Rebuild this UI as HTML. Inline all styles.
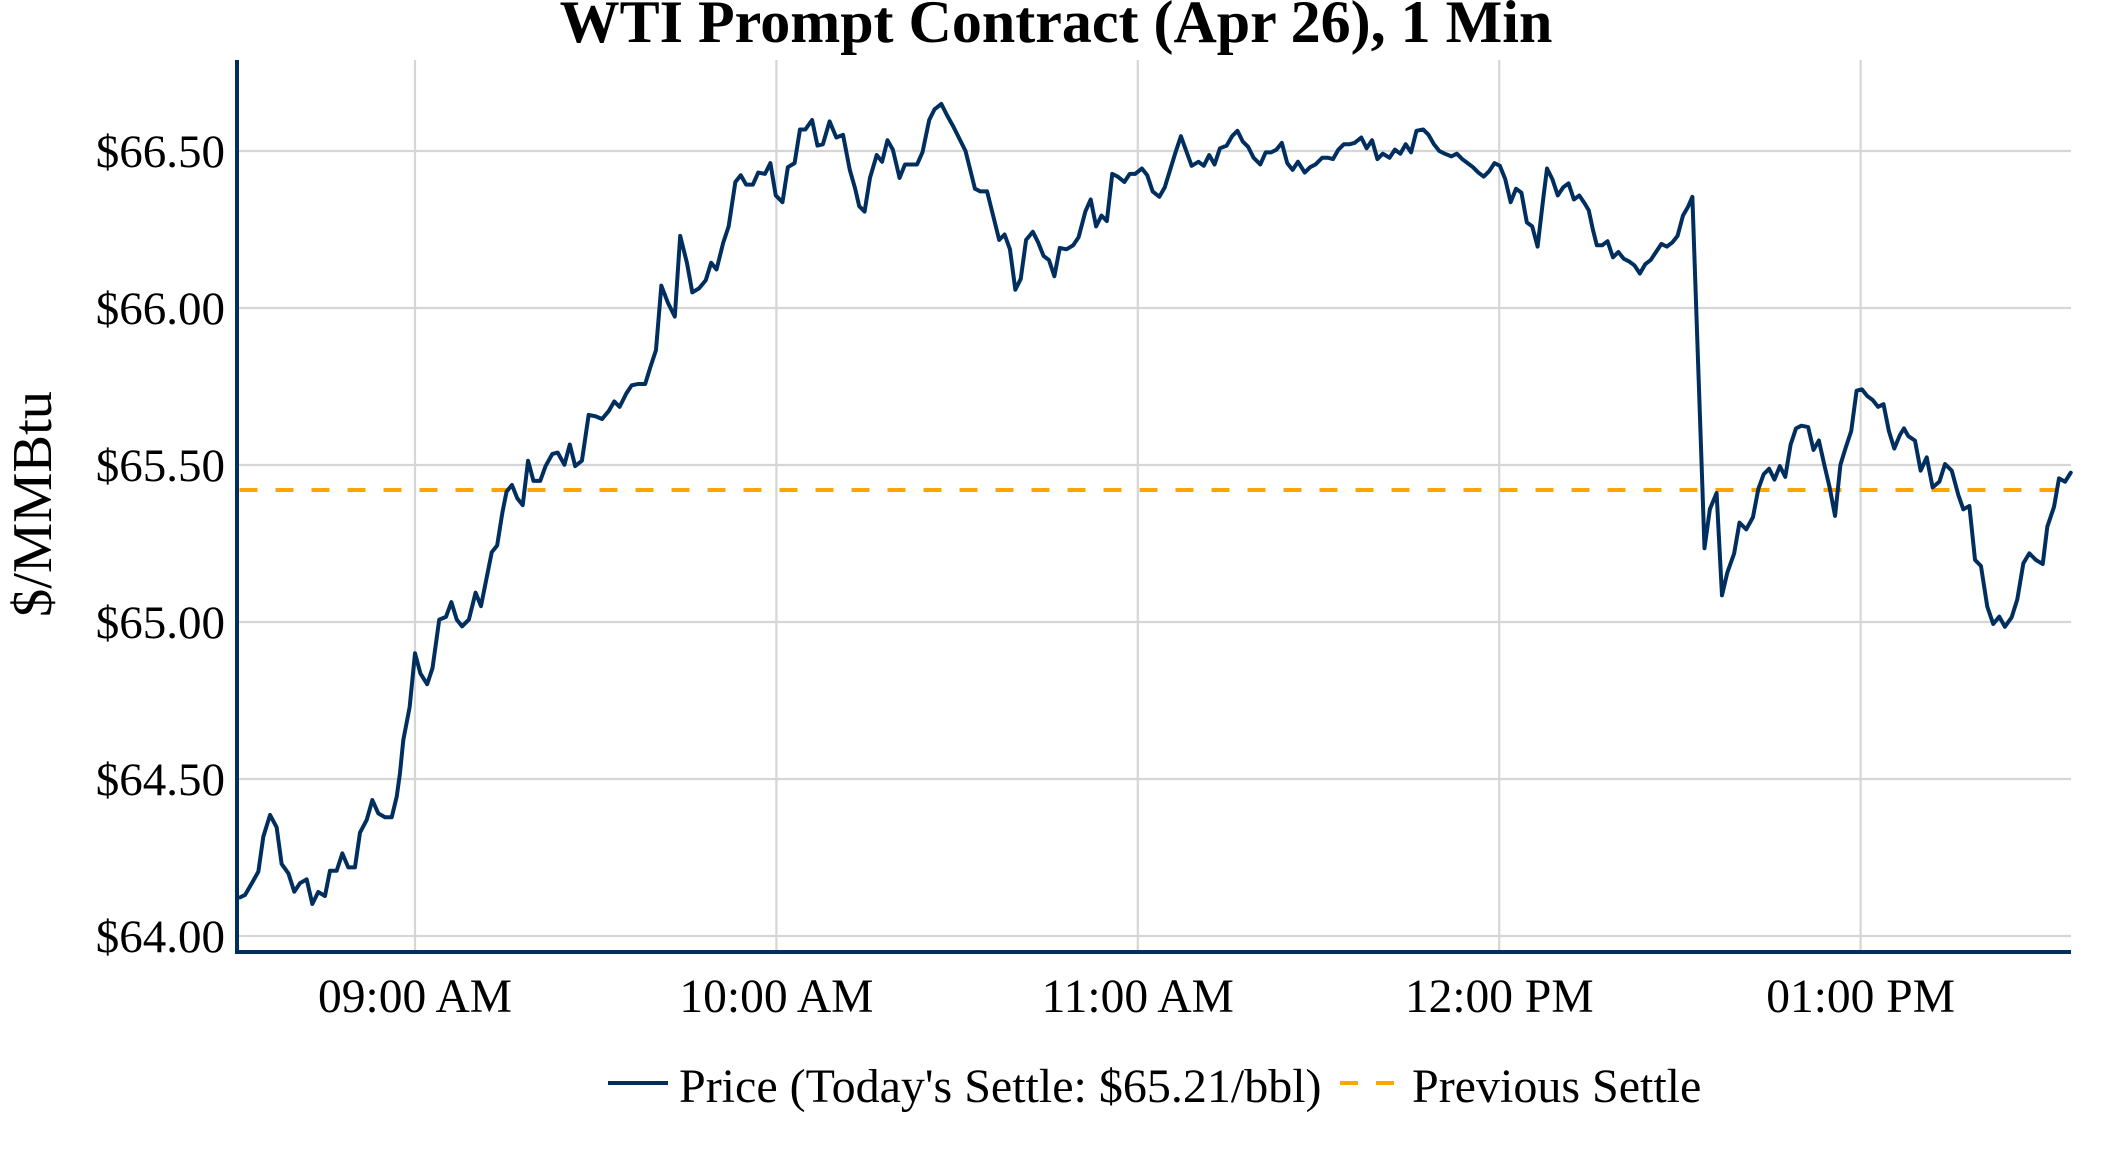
<!DOCTYPE html>
<html>
<head>
<meta charset="utf-8">
<style>
  html, body { margin:0; padding:0; background:#ffffff; }
  body { width:2112px; height:1152px; overflow:hidden; }
  svg { display:block; }
  text { font-family: "Liberation Serif", "Times New Roman", serif; fill:#000; }
</style>
</head>
<body>
<svg width="2112" height="1152" viewBox="0 0 2112 1152" xmlns="http://www.w3.org/2000/svg">
  <rect x="0" y="0" width="2112" height="1152" fill="#ffffff"/>

  <!-- Title -->
  <text x="1056" y="42" font-size="60" font-weight="bold" text-anchor="middle">WTI Prompt Contract (Apr 26), 1 Min</text>

  <!-- Gridlines horizontal -->
  <g stroke="#d6d6d6" stroke-width="2.2">
    <line x1="239" y1="151" x2="2071" y2="151"/>
    <line x1="239" y1="308" x2="2071" y2="308"/>
    <line x1="239" y1="465" x2="2071" y2="465"/>
    <line x1="239" y1="622" x2="2071" y2="622"/>
    <line x1="239" y1="779" x2="2071" y2="779"/>
    <line x1="239" y1="936" x2="2071" y2="936"/>
  </g>
  <!-- Gridlines vertical -->
  <g stroke="#d6d6d6" stroke-width="2.2">
    <line x1="415" y1="60" x2="415" y2="950"/>
    <line x1="776.4" y1="60" x2="776.4" y2="950"/>
    <line x1="1137.8" y1="60" x2="1137.8" y2="950"/>
    <line x1="1499.2" y1="60" x2="1499.2" y2="950"/>
    <line x1="1860.6" y1="60" x2="1860.6" y2="950"/>
  </g>

  <!-- Y tick labels -->
  <g font-size="47" text-anchor="end">
    <text x="225" y="167">$66.50</text>
    <text x="225" y="324">$66.00</text>
    <text x="225" y="481">$65.50</text>
    <text x="225" y="638">$65.00</text>
    <text x="225" y="795">$64.50</text>
    <text x="225" y="952">$64.00</text>
  </g>

  <!-- X tick labels -->
  <g font-size="47.5" text-anchor="middle">
    <text x="415" y="1012">09:00 AM</text>
    <text x="776.4" y="1012">10:00 AM</text>
    <text x="1137.8" y="1012">11:00 AM</text>
    <text x="1499.2" y="1012">12:00 PM</text>
    <text x="1860.6" y="1012">01:00 PM</text>
  </g>

  <!-- Y axis title -->
  <text transform="translate(51,504) rotate(-90)" font-size="56.5" text-anchor="middle">$/MMBtu</text>

  <!-- Previous settle -->
  <line x1="239.5" y1="490" x2="2071" y2="490" stroke="#ffa500" stroke-width="4" stroke-dasharray="18 18"/>

  <!-- Price series -->
  <g transform="translate(1.8,0.2) scale(1.346,1.3465)">
    <polyline fill="none" stroke="#002f5f" stroke-width="4" vector-effect="non-scaling-stroke" stroke-linejoin="round" stroke-linecap="round"
      points="177,666.3 180.7,664.5 185.7,655.9 190.6,647.2 194.3,621.2 199.3,605.1 204.2,614.3 207.9,641.5 212.9,648.4 217.3,662.1 221.5,655.8 226.5,652.9 230.7,671.2 235.1,662.3 240.1,665.3 243.8,646.5 248.8,646.5 253,633.6 257.4,644 262.4,644 266.1,618.3 271.1,608.8 275.3,594 279.7,603.9 284.7,606.8 289.7,606.8 293.4,591.5 295.8,574.2 298.3,549.4
      303,525 307,485 311,500 316,508 320,496 325,460 330,458 334,447 338,460 342,465 347,460 352,440 356,450 360,430 364,410 368,405 372,380 375,365 379,360 383,370 387,375 391,342 395,357 400,357 404,346 409,337 413,336 418,345 422,330 426,346 431,342 436,308 441,309 446,311 451,305 455,298 459,302 464,292 468,286 473,285 478,285 482,272 486,260 490,212 495,225 500,235 504,175 509,195 513,217 518,214 523,208 527,195 531,200 536,180 540,168 545,135 549,130 553,137 558,137 562,128 567,129 571,121 575,145 580,150 584,124 589,121 593,96 597,96 602,89 606,108 610,107 615,90 620,102 625,100 630,126 634,140 637,153 641,157 645,132 650,115 654,120 658,104 662,111 667,132 671,122 675,122 680,122 684,113 689,89 693,81 698,77 702,85 707,94 711,102 716,112 720,128 723,140 727,142 732,142 736,158 741,178 745,174 749,185 753,215 757,207 761,178 766,172 770,180 774,190 778,193 782,205 786,184 791,185 796,182 800,176 805,157 809,148 813,168 817,160 821,164 825,129 829,131 834,135 838,129 842,129 847,125 851,130 855,142 860,146 864,139 868,126 872,113 876,101 880,112 884,123 889,120 893,123 897,115 901,122 905,110 910,108 914,101 918,97 922,105 926,109 930,117 935,122 939,113 943,113 947,111 951,106 955,121 959,126 963,120 968,128 972,124 976,122 981,117 985,117 989,118 993,111 997,107 1001,107 1005,106 1010,102 1014,110 1018,104 1022,118 1026,114 1031,117 1035,111 1039,114 1043,107 1047,113 1051,97 1056,96 1060,100 1064,107 1068,112 1072,114 1077,116 1081,114 1085,118 1089,121 1093,124 1097,128 1101,131 1105,127 1109,121 1113,123 1117,133 1121,150 1125,140 1129,143 1133,165 1137,168 1141,183 1145,149 1148,125 1152,133 1156,145 1160,139 1164,136 1168,148 1172,145 1176,151 1179,156 1182,170 1185,182 1189,182 1193,179 1197,191 1201,187 1205,192 1209,194 1213,197 1217,203 1221,196 1225,193 1229,187 1233,181 1237,183 1241,180 1245,175 1249,160 1253,153 1256,146 1265,407 1269,378 1274,366 1278,442 1282,425 1287,411 1291,388 1296,393 1301,384 1305,363 1309,352 1313,348 1317,356 1321,346 1325,354 1329,330 1333,318 1337,316 1342,317 1346,334 1350,327 1354,345 1358,362 1362,383 1366,345 1370,332 1374,320 1378,290 1382,289 1386,294 1390,297 1394,302 1398,300 1402,320 1406,333
      1410.2,322.9 1413.2,318 1416.4,323.7 1421.4,327.1 1425.6,349.4 1430.1,339.5 1434.5,361.8 1439.5,357.6 1443.7,344.5 1448.7,349.4 1453.6,367.5 1457.3,378.1 1461.8,375.6 1466,415.7 1470.4,420.2 1475.1,450.4 1479.5,463.3 1484,457.8 1488.2,465.3 1493.2,458.3 1497.4,445 1501.9,418.2 1506.3,410.8 1511.3,415.8 1516.3,418.7 1519.7,391 1524.7,376.2 1528.4,355.1 1532.9,357.6 1537.1,350.9"/>
  </g>

  <!-- Axes lines -->
  <line x1="237" y1="60" x2="237" y2="954" stroke="#002f5f" stroke-width="4"/>
  <line x1="235" y1="952" x2="2071" y2="952" stroke="#002f5f" stroke-width="4"/>

  <!-- Legend -->
  <line x1="608" y1="1083" x2="668" y2="1083" stroke="#002f5f" stroke-width="4"/>
  <text x="679" y="1102" font-size="48">Price (Today's Settle: $65.21/bbl)</text>
  <line x1="1340" y1="1083" x2="1396" y2="1083" stroke="#ffa500" stroke-width="4" stroke-dasharray="18 18"/>
  <text x="1412" y="1102" font-size="48">Previous Settle</text>
</svg>
</body>
</html>
